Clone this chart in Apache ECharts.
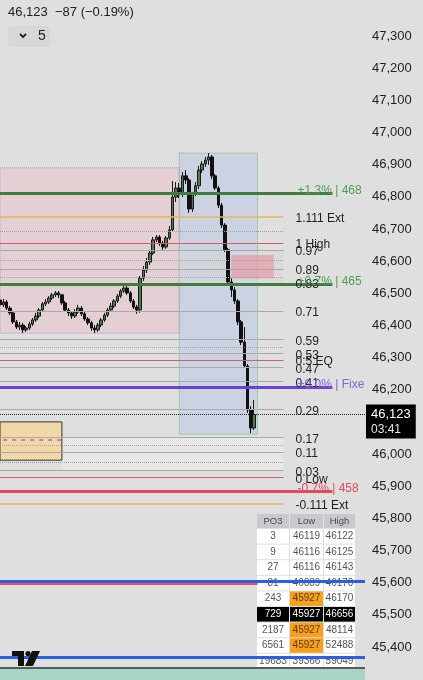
<!DOCTYPE html>
<html><head><meta charset="utf-8">
<style>html,body{margin:0;padding:0;background:#dfdfdf}#c{width:423px;height:680px}</style>
<script src="https://cdn.jsdelivr.net/npm/echarts@6/dist/echarts.min.js"></script>
</head><body><div id="c"></div><script>
// ---- data ----
const candles = [ // [open, close, low, high]
[46479,46464,46457,46485],[46464,46473,46457,46482],[46473,46454,46448,46479],[46454,46439,46432,46460],
[46439,46411,46404,46445],[46411,46395,46389,46417],[46395,46401,46386,46411],[46401,46386,46376,46408],
[46386,46392,46380,46398],[46392,46404,46386,46411],[46404,46417,46398,46423],[46417,46429,46411,46439],
[46429,46448,46423,46454],[46448,46467,46442,46473],[46467,46473,46460,46482],[46473,46485,46467,46491],
[46485,46495,46479,46501],[46495,46501,46488,46507],[46501,46495,46485,46507],[46495,46470,46464,46498],
[46470,46448,46442,46476],[46448,46439,46429,46454],[46439,46429,46420,46445],[46429,46442,46423,46451],
[46442,46454,46436,46464],[46454,46436,46429,46460],[46436,46420,46414,46442],[46420,46408,46401,46426],
[46408,46392,46383,46414],[46392,46386,46376,46401],[46386,46401,46380,46408],[46401,46417,46395,46423],
[46417,46432,46411,46439],[46432,46448,46426,46454],[46448,46460,46442,46470],[46460,46476,46454,46482],
[46476,46491,46470,46498],[46491,46507,46485,46513],[46507,46516,46501,46526],[46516,46501,46495,46523],
[46501,46476,46470,46507],[46476,46457,46451,46482],[46457,46448,46436,46464],[46448,46547,46439,46554],
[46547,46572,46538,46585],[46572,46597,46563,46610],[46597,46625,46588,46635],[46625,46666,46619,46675],
[46666,46675,46659,46681],[46675,46656,46647,46681],[46656,46644,46635,46663],[46644,46672,46638,46678],
[46672,46697,46666,46709],[46697,46799,46691,46849],[46799,46827,46784,46846],[46827,46809,46796,46843],
[46809,46865,46799,46877],[46865,46852,46840,46883],[46852,46762,46750,46858],[46762,46809,46753,46815],
[46809,46834,46802,46846],[46834,46883,46824,46896],[46883,46902,46874,46911],[46902,46914,46893,46924],
[46914,46924,46899,46936],[46924,46865,46855,46930],[46865,46827,46821,46871],[46827,46774,46765,46834],
[46774,46712,46703,46781],[46712,46635,46628,46718],[46635,46535,46526,46641],[46535,46510,46488,46547],
[46510,46476,46467,46519],[46476,46411,46401,46482],[46411,46348,46339,46417],[46348,46274,46268,46395],
[46274,46137,46128,46280],[46137,46081,46065,46149],[46081,46123,46075,46168]
];
const slotCount = 113;
const fibLabels = ['1.111 Ext','1 High','0.97','0.89','0.83','0.71','0.59','0.53','0.5 EQ','0.47','0.41','0.29','0.17','0.11','0.03','0 Low','-0.111 Ext'];
const fibPrices = [46737,46656,46634,46576,46532,46445,46357,46313,46292,46270,46226,46138,46051,46007,45949,45927,45846];
const dottedLevels = [46694,46603,46551,46333,46028,45975];
const pctLabels = ['+1.3% | 468','+0.7% | 465','+0.0% | Fixe','-0.7% | 458'];
const pctPrices = [46812,46529,46209,45885];
const blueLevels = [45606,45369];
const redLowLevel = 45597;
const lastPrice = 46123, lastTime = '03:41', change = '−87 (−0.19%)', timeframe = '5';
const blueBox = [46936,46062], pinkBox = [46890,46376], smallPinkBox = [46619,46547], tanBox = [46100,45981], tanMid = 46044;
const grayBandA = [46634,46532], grayBandB = [46051,45949];
const po3Periods = [3,9,27,81,243,729,2187,6561,19683];
const po3Low = [46119,46116,46116,46089,45927,45927,45927,45927,39366];
const po3High = [46122,46125,46143,46170,46170,46656,48114,52488,59049];
const yTicks = {min:45300, max:47400, step:100};

// ---- helpers ----
const FONT = '"Liberation Sans", Arial, sans-serif';
const fmt = v => String(Math.round(v)).replace(/\B(?=(\d{3})+(?!\d))/g, ',');
const cats = Array.from({length: slotCount}, (_, i) => 'k' + i);
const levelEnd = 87, toolEnd = 102, fullEnd = slotCount - 1, boxStart = 55, boxEnd = 79, tanEnd = 19, spStart = 71, spEnd = 84;
function seg(price, x0, x1, lineStyle, label) {
  return [{coord:[x0, price], lineStyle: lineStyle, label: label || {show:false}}, {coord:[x1, price]}];
}
const fibColor = (t) => /Ext/.test(t) ? '#efb05a' : (/High|EQ|Low/.test(t) ? '#dc5a68' : '#a9a9a9');

const lines = [];
dottedLevels.forEach(p => lines.push(seg(p, 0, levelEnd, {color:'#a2a2a2', width:1, type:'dotted'})));
fibPrices.forEach((p, i) => lines.push(seg(p, 0, levelEnd,
  {color: fibColor(fibLabels[i]), width: /Ext/.test(fibLabels[i]) ? 1.5 : 1, type:'solid'},
  {show:true, position:'end', distance:12, formatter: fibLabels[i], color:'#1e1e1e', fontSize:12, offset:[0,2]})));
const pctColors = ['#3f7d3f','#3f7d3f','#6a42d2','#e3485c'];
const pctText = ['#4f9f4f','#4f9f4f','#8064d6','#e3485c'];
lines.push(seg(redLowLevel, 0, boxEnd, {color:'#e0505f', width:2, type:'solid'}));
pctPrices.forEach((p, i) => {
  lines.push(seg(p, 0, toolEnd, {color: pctColors[i], width: 3, type:'solid'}));
  lines.push(seg(p, 0, levelEnd, {color:'rgba(0,0,0,0)', width:0},
    {show:true, position:'end', distance:14, formatter: pctLabels[i], color: pctText[i], fontSize:12, offset:[0,-2]}));
});
blueLevels.forEach(p => lines.push(seg(p, 0, fullEnd, {color:'#2c5fe8', width:3, type:'solid'})));
lines.push(seg(tanMid, 1, tanEnd, {color:'#c8608e', width:1.5, type:[4,5]}));
lines.push(seg(lastPrice, 0, fullEnd, {color:'#222', width:1, type:'dotted'},
  {show:true, position:'end', distance:1, formatter: '{a|' + fmt(lastPrice) + '}\n{b|' + lastTime + '}',
   backgroundColor:'#000', padding:[2,5,1,5], offset:[0,7],
   rich:{a:{color:'#fff', fontSize:13, lineHeight:16, fontFamily:FONT}, b:{color:'#e8e8e8', fontSize:12, lineHeight:15, fontFamily:FONT}}}));

const areas = [
  [{coord:[0, pinkBox[0]], itemStyle:{color:'rgba(238,176,190,0.32)', borderColor:'#ab8fd6', borderWidth:1, borderType:'dotted'}}, {coord:[boxStart, pinkBox[1]]}],
  [{coord:[boxStart, blueBox[0]], itemStyle:{color:'rgba(150,175,235,0.28)', borderColor:'#72b872', borderWidth:1, borderType:'dotted'}}, {coord:[boxEnd, blueBox[1]]}],
  [{coord:[boxStart, grayBandA[0]], itemStyle:{color:'rgba(215,215,215,0.55)'}}, {coord:[levelEnd, grayBandA[1]]}],
  [{coord:[tanEnd, grayBandB[0]], itemStyle:{color:'rgba(236,236,236,0.6)'}}, {coord:[levelEnd, grayBandB[1]]}],
  [{coord:[spStart, smallPinkBox[0]], itemStyle:{color:'rgba(240,120,135,0.45)'}}, {coord:[spEnd, smallPinkBox[1]]}],
  [{coord:[0, tanBox[0]], itemStyle:{color:'#f0d9a6', borderColor:'#333', borderWidth:1}}, {coord:[tanEnd, tanBox[1]]}]
];

// ---- overlay graphics (header, table, logo, strip) ----
const g = [];
g.push({type:'text', z:100, style:{text: fmt(lastPrice) + '  ' + change, x:8, y:12, verticalAlign:'middle', fill:'#222', font:'13px ' + FONT}});
g.push({type:'rect', z:100, shape:{x:8, y:26, width:42, height:21, r:4}, style:{fill:'#d7d7d7'}});
g.push({type:'polyline', z:101, shape:{points:[[20,34],[23,37],[26,34]]}, style:{stroke:'#222', lineWidth:1.8, fill:null}});
g.push({type:'text', z:101, style:{text: timeframe, x:38, y:36.5, verticalAlign:'middle', fill:'#222', font:'14px ' + FONT}});

const tx = [257, 290, 324], tw = [33, 34, 32];
const headTop = 514, headH = 14, rowTop = 529, rowH = 15.6;
const rangeLow = Math.min(...po3Low.slice(0, 8));
const activeHigh = fibPrices[fibLabels.indexOf('1 High')];
['PO3','Low','High'].forEach((t, c) => {
  g.push({type:'rect', z:1, shape:{x:tx[c], y:headTop, width:tw[c]-1, height:headH}, style:{fill:'#c8c8ce'}});
  g.push({type:'text', z:1, style:{text:t, x:tx[c]+(tw[c]-1)/2, y:headTop+headH/2+0.5, align:'center', verticalAlign:'middle', fill:'#4a4a4a', font:'9.5px ' + FONT}});
});
po3Periods.forEach((per, r) => {
  const y = rowTop + r*rowH;
  const h = Math.min(rowH - 1, 668 - y);
  const active = po3High[r] === activeHigh;
  const vals = [per, po3Low[r], po3High[r]];
  vals.forEach((v, c) => {
    let fill = '#ffffff', col = '#555';
    if (active) { fill = '#000'; col = '#fff'; }
    else if (c === 1 && v === rangeLow) { fill = '#f5a11c'; col = '#5a3a00'; }
    g.push({type:'rect', z:1, shape:{x:tx[c], y:y, width:tw[c]-1, height:h}, style:{fill:fill}});
    g.push({type:'text', z:1, style:{text:String(v), x:tx[c]+(tw[c]-1)/2, y:y+(rowH-1)/2, align:'center', verticalAlign:'middle', fill:col, font:'10px ' + FONT}});
  });
});
// bottom strip
g.push({type:'rect', z:100, shape:{x:0, y:667, width:365, height:2}, style:{fill:'#5a5a5a'}});
g.push({type:'rect', z:100, shape:{x:0, y:669, width:365, height:11}, style:{fill:'#a7d5c8'}});
// logo
g.push({type:'rect', z:100, shape:{x:12, y:651, width:12, height:5}, style:{fill:'#111'}});
g.push({type:'rect', z:100, shape:{x:18, y:651, width:6, height:15}, style:{fill:'#111'}});
g.push({type:'circle', z:100, shape:{cx:28, cy:653.5, r:2.6}, style:{fill:'#111'}});
g.push({type:'polygon', z:100, shape:{points:[[32,651],[40,651],[33,666],[25,666]]}, style:{fill:'#111'}});

const chart = echarts.init(document.getElementById('c'), null, {renderer:'canvas'});
chart.setOption({
  animation:false,
  backgroundColor:'#dfdfdf',
  textStyle:{fontFamily:FONT},
  grid:{left:0, right:58, top:3.8, height:675.4},
  xAxis:{type:'category', data:cats, boundaryGap:false, show:false},
  yAxis:{type:'value', position:'right', min:yTicks.min, max:yTicks.max, interval:yTicks.step,
    axisLine:{show:false}, axisTick:{show:false}, splitLine:{show:false},
    axisLabel:{margin:7, fontSize:13, color:'#222', fontFamily:FONT,
      formatter: v => (v >= yTicks.max || v <= yTicks.min) ? '' : fmt(v)}},
  series:[
    {type:'line', data:[], z:1, silent:true,
     markArea:{silent:true, data:areas}},
    {type:'line', data:[], z:2, silent:true,
     markLine:{silent:true, symbol:['none','none'], animation:false, data:lines, emphasis:{disabled:true}}},
    {type:'candlestick', z:3, data:candles, barWidth:3, silent:true,
     itemStyle:{color:'#4b7d50', color0:'#111', borderColor:'#1a1a1a', borderColor0:'#111', borderWidth:1}}
  ],
  graphic:{elements:g}
});
</script></body></html>
